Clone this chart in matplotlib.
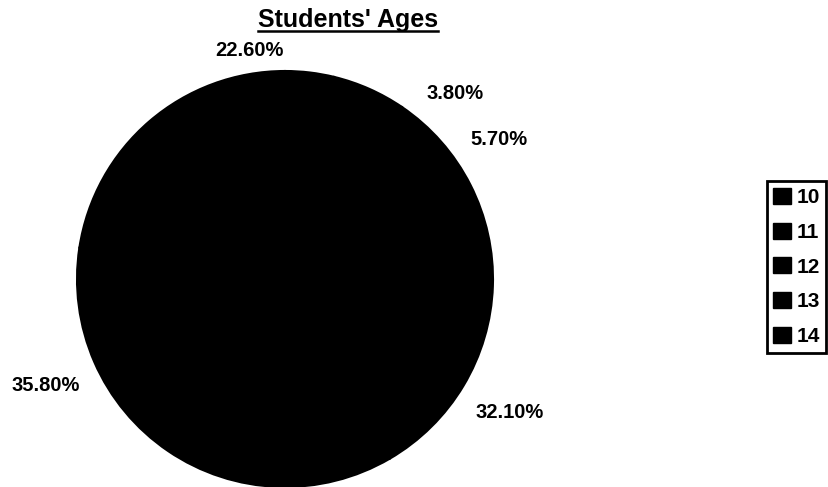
import matplotlib.pyplot as plt
from matplotlib.lines import Line2D
from matplotlib.patches import Patch

ages = ['10', '11', '12', '13', '14']
shares = [3.80, 5.70, 32.10, 35.80, 22.60]
# where Excel put each percentage label, in pie-radius units
label_pos = [(0.82, 0.89), (1.03, 0.67), (1.08, -0.64), (-1.15, -0.51), (-0.17, 1.10)]

plt.rcParams['font.family'] = ['Liberation Sans', 'DejaVu Sans']
plt.rcParams['font.weight'] = 'bold'

fig = plt.figure(figsize=(8.29, 4.87), dpi=100)
ax = fig.add_axes([77 / 829, 0.0, 416 / 829, 416 / 487])

wedges, texts, autotexts = ax.pie(shares, colors=['black'] * len(shares), startangle=90,
                                  counterclock=False, autopct='%.2f%%',
                                  wedgeprops=dict(edgecolor='black', linewidth=1.5))
for t, (x, y) in zip(autotexts, label_pos):
     t.set_position((x, y))
     t.set_color('black')
     t.set_fontsize(14.5)
     t.set_fontweight('bold')
ax.set_xlim(-1, 1)
ax.set_ylim(-1, 1)

title = fig.text(348 / 829, 1 - 20 / 487, "Students' Ages", ha='center', va='center',
                 fontsize=18, fontweight='bold')
fig.canvas.draw()
bb = title.get_window_extent().transformed(fig.transFigure.inverted())
fig.add_artist(Line2D([bb.x0, bb.x1], [bb.y0 + 0.002, bb.y0 + 0.002], color='black', linewidth=1.8))

handles = [Patch(facecolor='black', edgecolor='black') for a in ages]
leg = fig.legend(handles, ages, loc='center left', bbox_to_anchor=(767 / 829, 1 - 267 / 487),
                 prop={'weight': 'bold', 'size': 15}, handlelength=0.85, handleheight=0.8,
                 handletextpad=0.25, labelspacing=0.75, borderpad=0.3, borderaxespad=0,
                 fancybox=False, framealpha=1)
leg.get_frame().set_edgecolor('black')
leg.get_frame().set_linewidth(2)

plt.savefig('out.png', dpi=100)
